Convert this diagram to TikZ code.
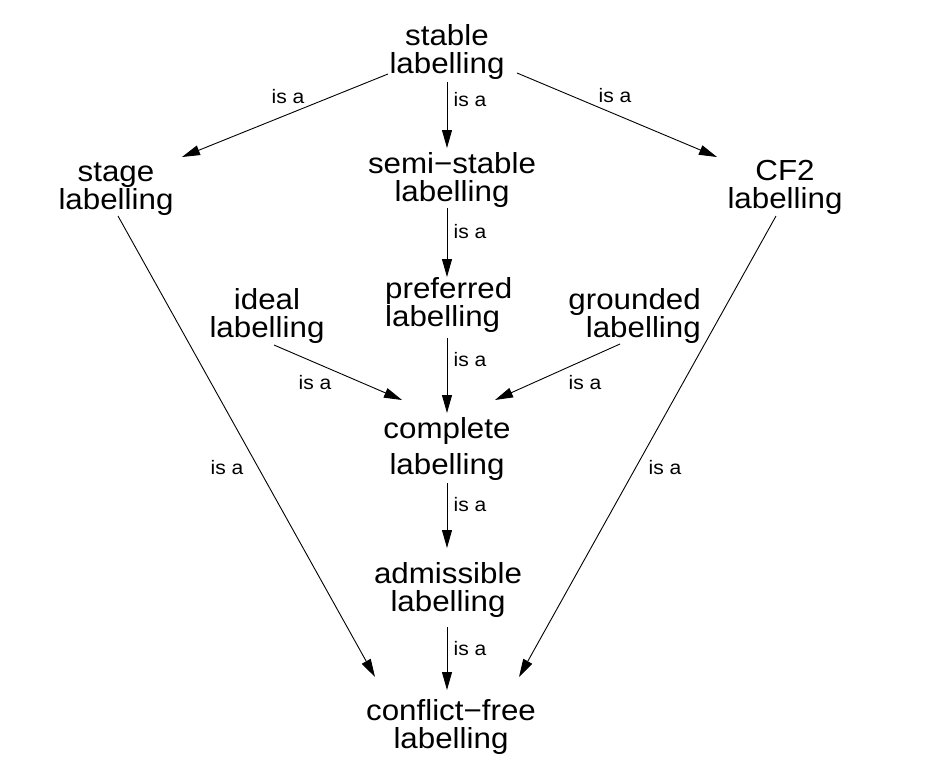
\documentclass[tikz,border=0pt]{standalone}
\usepackage{fontspec}
\setmainfont[FakeStretch=1.08]{Liberation Sans}
\usetikzlibrary{arrows.meta}
\begin{document}
\begin{tikzpicture}[x=1pt,y=-1pt,
  lab/.style={font=\fontsize{29}{28}\selectfont, inner sep=0pt, align=center, anchor=base},
  isa/.style={font=\fontsize{19.5}{20}\selectfont, inner sep=0pt},
  arr/.style={line width=0.9pt, -{Triangle[length=18pt,width=10pt]}}]
\useasboundingbox (0,0) rectangle (932,782);
% nodes (base anchor = baseline of the last line)
\node[lab] (stable) at (447,73) {stable\\labelling};
\node[lab] (semi) at (452,201) {semi−stable\\labelling};
\node[lab] (stage) at (116,209) {stage\\labelling};
\node[lab] (cf2) at (785,208) {CF2\\labelling};
\node[lab] (ideal) at (267,337) {ideal\\labelling};
\node[lab, align=left, anchor=base west] (pref) at (385,326) {preferred\\labelling};
\node[lab, align=right, anchor=base east] (ground) at (701,337) {grounded\\labelling};
\node[lab, font=\fontsize{29}{36}\selectfont] (complete) at (447,474) {complete\\labelling};
\node[lab] (adm) at (448,611) {admissible\\labelling};
\node[lab] (cfree) at (451,748) {conflict−free\\labelling};
% connectors
\draw[arr] ([shift={(-59,1)}]stable.base) -- ([shift={(66,-52)}]stage.base);
\draw[arr] ([shift={(0,9)}]stable.base) -- ([shift={(-5,-53)}]semi.base);
\draw[arr] ([shift={(70,0)}]stable.base) -- ([shift={(-68,-51)}]cf2.base);
\draw[arr] ([shift={(-5,7)}]semi.base) -- ([shift={(62,-49)}]pref.base west);
\draw[arr] ([shift={(62,12)}]pref.base west) -- ([shift={(0,-61)}]complete.base);
\draw[arr] ([shift={(7,8)}]ideal.base) -- ([shift={(-45,-74)}]complete.base);
\draw[arr] ([shift={(-81,7)}]ground.base east) -- ([shift={(48,-74)}]complete.base);
\draw[arr] ([shift={(0,9)}]complete.base) -- ([shift={(-1,-63)}]adm.base);
\draw[arr] ([shift={(-1,16)}]adm.base) -- ([shift={(-4,-58)}]cfree.base);
\draw[arr] ([shift={(2,7)}]stage.base) -- ([shift={(-76,-71)}]cfree.base);
\draw[arr] ([shift={(-9,8)}]cf2.base) -- ([shift={(68,-71)}]cfree.base);
% labels
\node[isa] (l1) at (288,97) {is a};
\node[isa] (l2) at (470,100) {is a};
\node[isa] (l3) at (615,96) {is a};
\node[isa] (l4) at (470,232) {is a};
\node[isa] (l5) at (470,360) {is a};
\node[isa] (l6) at (315,383) {is a};
\node[isa] (l7) at (585,383) {is a};
\node[isa] (l8) at (470,505) {is a};
\node[isa] (l9) at (470,649) {is a};
\node[isa] (l10) at (227,468) {is a};
\node[isa] (l11) at (665,468) {is a};
\end{tikzpicture}
\end{document}
